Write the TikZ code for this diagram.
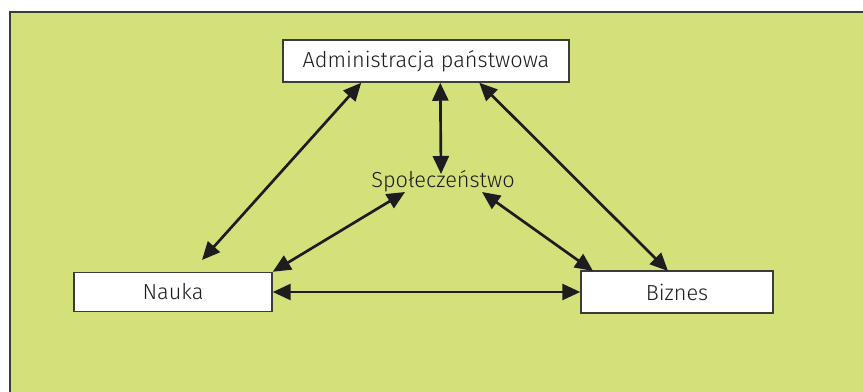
\documentclass[tikz,border=0pt]{standalone}
\usepackage{fontspec}
\IfFontExistsTF{Fira Sans Light}{\setmainfont{Fira Sans Light}}{\setmainfont{Open Sans}}
\usetikzlibrary{arrows.meta,calc}
\definecolor{panel}{RGB}{212,225,123}
\definecolor{edge}{RGB}{60,60,55}
\definecolor{ink}{RGB}{30,28,30}
\tikzset{
  label/.style={font=\fontsize{16.3}{19}\selectfont, text=ink},
  box/.style={label, draw=edge, line width=1.1pt, fill=white, inner sep=0pt},
  link/.style={draw=ink, line width=2pt, {Triangle[length=13.5pt,width=12pt]}-{Triangle[length=13.5pt,width=12pt]}},
}
\begin{document}
\begin{tikzpicture}[x=0.75pt,y=-0.75pt]
  \useasboundingbox (0,0) rectangle (863,392);
  % background panel, running off the right and bottom edges
  \fill[panel] (10,12) rectangle (863,392);
  \draw[edge, line width=1.2pt] (10,392) -- (10,12) -- (863,12);

  \node[box, minimum width=286*0.75pt, minimum height=42*0.75pt] (adm) at (426,61) {Administracja państwowa\hspace{6pt}};
  \node[box, minimum width=198*0.75pt, minimum height=39*0.75pt] (nauka) at (173,292) {Nauka\hspace{3pt}};
  \node[box, minimum width=192*0.75pt, minimum height=42*0.75pt] (biz) at (677,292) {Biznes\hspace{10.5pt}};
  \node[label, inner sep=0pt] (spol) at (443,181) {Społeczeństwo};

  % arrow ends
  \coordinate (admL) at ($(adm.south west)+(79,0)$);
  \coordinate (admM) at ($(adm.south west)+(158,0)$);
  \coordinate (admR) at ($(adm.south west)+(197,0)$);
  \coordinate (nTop) at (202,260);
  \coordinate (sTop) at (441,174);
  \coordinate (sL) at (405,192);
  \coordinate (sR) at (482,192);
  \coordinate (bL) at (593,271);
  \coordinate (bM) at (668,271);

  \draw[link] (admL) -- (nTop);
  \draw[link] (admM) -- (sTop);
  \draw[link] (admR) -- (bM);
  \draw[link] (sL) -- (nauka.north east);
  \draw[link] (sR) -- (bL);
  \draw[link] (nauka.east) -- (biz.west);
\end{tikzpicture}
\end{document}
